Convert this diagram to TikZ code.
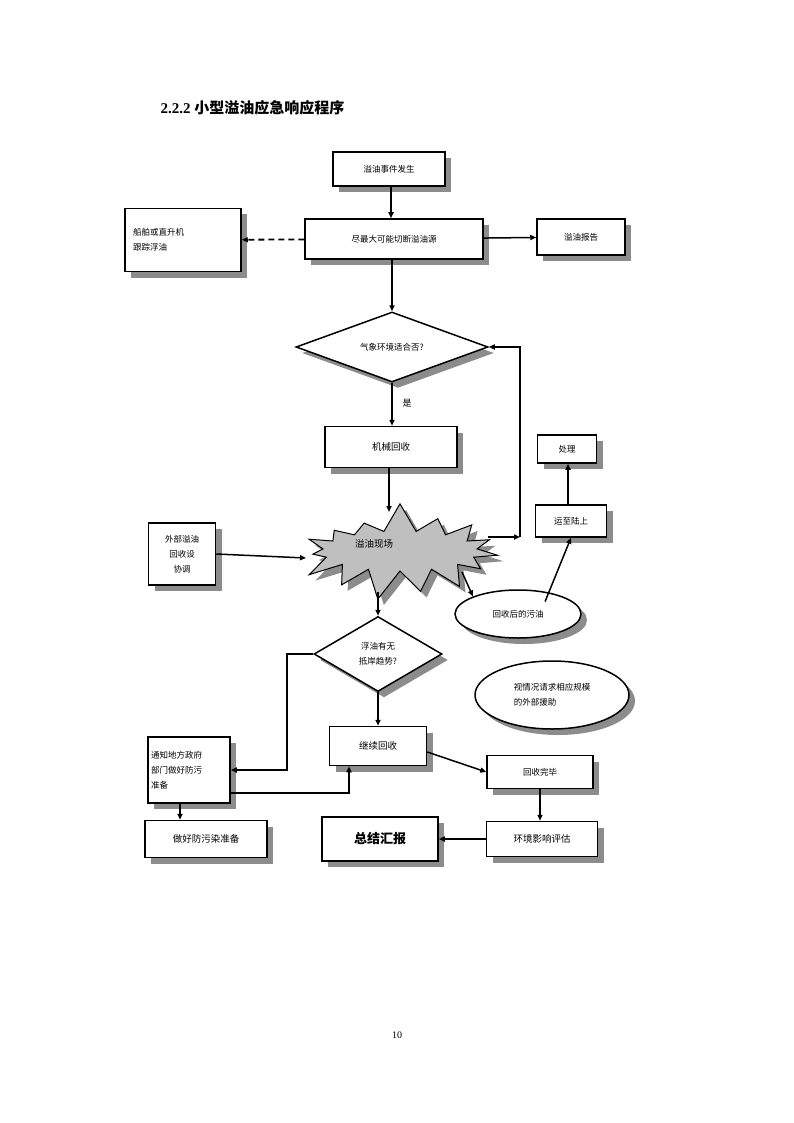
\documentclass[tikz,border=0pt]{standalone}
\usepackage{fontspec}
\setmainfont{Liberation Serif}
\newfontfamily\cjk{Noto Sans CJK SC}
\usetikzlibrary{shapes.geometric,shapes.symbols,shadows,arrows.meta}
\begin{document}
\begin{tikzpicture}[x=1pt,y=-1pt,
  sh/.style={drop shadow={shadow xshift=6pt,shadow yshift=-6pt,fill=black!45,opacity=1}},
  box/.style={draw,line width=1.5pt,fill=white,sh,font=\cjk\fontsize{8.5}{15}\selectfont,align=center,inner sep=2pt},
  dia/.style={diamond,draw,line width=1.5pt,fill=white,sh,inner sep=0pt},
  ell/.style={ellipse,draw,line width=1.5pt,fill=white,sh,font=\cjk\fontsize{8.5}{15}\selectfont,align=center,inner sep=0pt},
  arr/.style={line width=1.5pt,-{Triangle[length=6pt,width=5pt]}}]
\useasboundingbox (0,0) rectangle (794,1123);
\node[anchor=west,font=\bfseries\fontsize{15}{18}\selectfont] (title) at (157,108) {2.2.2 {\cjk 小型溢油应急响应程序}};
\node[box,minimum width=112pt,minimum height=34pt] (A) at (389,169) {溢油事件发生};
\node[box,minimum width=178pt,minimum height=40pt] (B) at (394,239) {尽最大可能切断溢油源};
\node[box,minimum width=116pt,minimum height=63pt,align=left,text width=100pt] (C) at (183,240) {船舶或直升机\\跟踪浮油};
\node[box,minimum width=88pt,minimum height=36pt] (D) at (581,237) {溢油报告};
\node[dia,minimum width=192pt,minimum height=70pt,aspect=2.7] (E) at (392,347) {};
\node[font=\cjk\fontsize{8.5}{10}\selectfont] (Et) at (392,347) {气象环境适合否?};
\node[font=\cjk\fontsize{9}{10}\selectfont] (yes) at (407,403) {是};
\node[box,minimum width=132pt,minimum height=41pt,font=\cjk\fontsize{9.5}{14}\selectfont] (F) at (391,447) {机械回收};
\node[box,minimum width=59pt,minimum height=28pt] (P) at (567,449) {处理};
\node[box,minimum width=71pt,minimum height=32pt] (Q) at (571,521) {运至陆上};
\node[starburst,starburst points=15,starburst point height=30pt,draw,line width=1pt,fill=black!25,sh,minimum width=215pt,minimum height=100pt,random starburst=7] (S) at (400,551) {};
\node[font=\cjk\fontsize{9.5}{10}\selectfont] (St) at (374,544) {溢油现场};
\node[box,minimum width=67pt,minimum height=62pt] (O) at (182,554) {外部溢油\\回收设\\协调};
\node[ell,minimum width=126pt,minimum height=48pt] (R) at (518,614) {回收后的污油};
\node[dia,minimum width=128pt,minimum height=75pt,aspect=1.7] (G) at (378,654) {};
\node[font=\cjk\fontsize{8.5}{15}\selectfont,align=center] (Gt) at (378,654) {浮油有无\\抵岸趋势?};
\node[ell,minimum width=154pt,minimum height=68pt,align=left] (X) at (552,695) {视情况请求相应规模\\的外部援助};
\node[box,minimum width=82pt,minimum height=66pt,align=left,text width=76pt] (H) at (189,770) {通知地方政府\\部门做好防污\\准备};
\node[box,minimum width=97pt,minimum height=39pt,font=\cjk\fontsize{9.5}{14}\selectfont] (I) at (378,746) {继续回收};
\node[box,minimum width=106pt,minimum height=33pt] (J) at (540,772) {回收完毕};
\node[box,minimum width=122pt,minimum height=37pt,font=\cjk\fontsize{9.5}{14}\selectfont] (K) at (206,839) {做好防污染准备};
\node[box,minimum width=116pt,minimum height=44pt,font=\cjk\bfseries\fontsize{13}{14}\selectfont] (L) at (380,839) {总结汇报};
\node[box,minimum width=111pt,minimum height=35pt,font=\cjk\fontsize{9.5}{14}\selectfont] (M) at (542,839) {环境影响评估};
\node (pg) at (397,1035) {\fontsize{10}{12}\selectfont 10};
\coordinate (c1) at (520,537);
\coordinate (c2) at (287,654);
\coordinate (c3) at (349,793);
\draw[arr] (A.south -| 391,0) -- (B.north -| 391,0);
\draw[line width=1.8pt,dash pattern=on 6pt off 4pt,-{Triangle[length=6pt,width=5pt]}] (B) -- (C);
\draw[arr] (B) -- (D);
\draw[arr] (B.south -| E.north) -- (E.north);
\draw[arr] (E.south) -- (F.north -| E.south);
\draw[arr] (F.south -| 389,0) -- (389,512);
\draw[arr] (488,537) -- (c1);
\draw[arr] (c1) -- (520,347) -- (E.east);
\draw[arr] (462,572) -- (R.north west);
\draw[arr] (R.north east) ++(-18,5) -- (Q.south);
\draw[arr] (Q.north) ++(-3,0) -- (P.south -| 568,0);
\draw[arr] (O.east) -- (306,558);
\draw[arr] (378,592) -- (G.north);
\draw[arr] (G.west) -- (c2) |- (H.east);
\draw[arr] (G.south) -- (I.north -| G.south);
\draw[arr] (H.east |- c3) -- (c3) -- (I.south -| c3);
\draw[arr] (I.east) ++(0,6) -- (J.west);
\draw[arr] (J.south) -- (M.north -| J.south);
\draw[arr] (M) -- (L);
\draw[arr] (H.south -| 180,0) -- (K.north -| 180,0);
\end{tikzpicture}
\end{document}
